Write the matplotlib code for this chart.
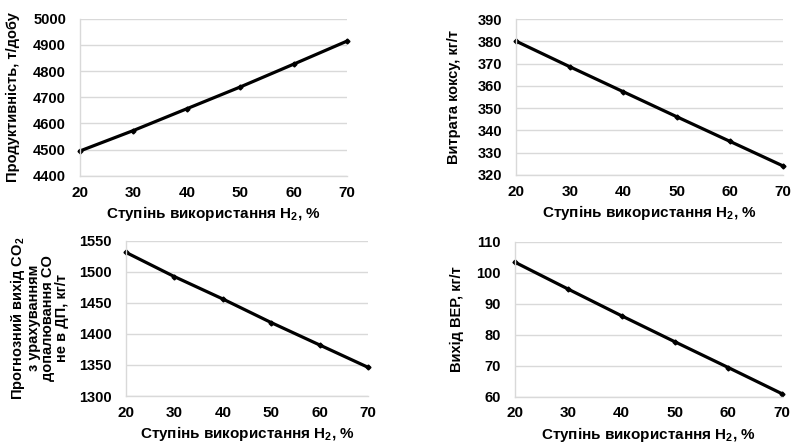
import matplotlib
matplotlib.use('Agg')
import matplotlib.pyplot as plt

plt.rcParams['font.family'] = ['Liberation Sans', 'DejaVu Sans']
plt.rcParams['font.weight'] = 'bold'
plt.rcParams['mathtext.fontset'] = 'custom'
plt.rcParams['mathtext.rm'] = 'Liberation Sans:bold'
plt.rcParams['mathtext.bf'] = 'Liberation Sans:bold'

# ступінь використання водню, %
h2_use = [20, 30, 40, 50, 60, 70]

productivity = [4495, 4573, 4656, 4739, 4826, 4914]
coke_rate = [380.0, 368.6, 357.4, 346.2, 335.1, 324.0]
co2_out = [1531, 1492, 1456, 1418, 1382, 1346]
ver_out = [103.4, 94.7, 86.1, 77.7, 69.4, 61.0]

xlabel = 'Ступінь використання H$_{\\mathbf{2}}$, %'

panels = [
    (productivity, 'Продуктивність, т/добу', 4400, 5000, 100,
     [0.101, 0.603, 0.337, 0.355], -0.225),
    (coke_rate, 'Витрата коксу, кг/т', 320, 390, 10,
     [0.652, 0.605, 0.337, 0.352], -0.209),
    (co2_out, 'Прогнозний вихід CO$_{\\mathbf{2}}$\nз урахуванням\nдопалювання CO\nне в ДП, кг/т',
     1300, 1550, 50, [0.159, 0.106, 0.306, 0.351], -0.235),
    (ver_out, 'Вихід ВЕР, кг/т', 60, 110, 10,
     [0.650, 0.1045, 0.337, 0.350], -0.191),
]

fig = plt.figure(figsize=(7.92, 4.43), dpi=100)

for vals, ylab, ymin, ymax, step, rect, ylab_x in panels:
    ax = fig.add_axes(rect)
    ax.plot(h2_use, vals, color='black', lw=2.3, marker='D', ms=2.5, clip_on=False)
    ax.set_xlim(20, 70)
    ax.set_ylim(ymin, ymax)
    ax.set_xticks(range(20, 71, 10))
    ax.set_yticks(range(ymin, ymax + 1, step))
    ax.grid(axis='y', color='#d9d9d9', lw=1)
    ax.set_axisbelow(True)
    for s in ['top', 'right']:
        ax.spines[s].set_visible(False)
    for s in ['left', 'bottom']:
        ax.spines[s].set_color('#d9d9d9')
        ax.spines[s].set_linewidth(1)
    ax.tick_params(length=0)
    ax.tick_params(axis='x', pad=7, labelsize=11)
    ax.tick_params(axis='y', pad=10, labelsize=10.5)
    ax.set_xlabel(xlabel, fontsize=11, fontweight='bold', labelpad=3)
    ax.set_ylabel(ylab, fontsize=10.5, fontweight='bold', linespacing=1.0)
    ax.yaxis.set_label_coords(ylab_x, 0.5)

fig.savefig('out.png', dpi=100)
